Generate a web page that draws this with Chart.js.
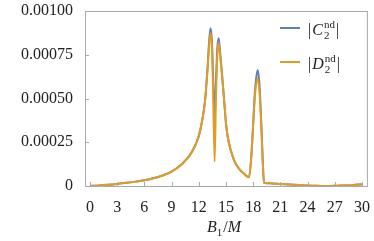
<!DOCTYPE html>
<html>
<head>
<meta charset="utf-8">
<script src="https://cdn.jsdelivr.net/npm/chart.js@4"></script>
<style>
  html, body { margin: 0; padding: 0; background: #fff; }
  #wrap { width: 374px; height: 241px; }
</style>
</head>
<body>
<div id="wrap"><canvas id="chart" width="374" height="241"></canvas></div>
<script>
// B1/M positions
const xValues = [0, 1, 2, 3, 4, 5, 6, 7, 8, 9, 10, 10.5, 11, 11.5, 12, 12.4, 12.7, 12.95, 13.15, 13.3, 13.45, 13.6, 13.75, 13.9, 14.05, 14.2, 14.35, 14.6, 14.8, 15.0, 15.2, 15.5, 16.0, 16.5, 17.0, 17.55, 17.8, 18.0, 18.15, 18.3, 18.5, 18.7, 18.9, 19.05, 19.2, 20, 21, 22, 23, 24, 25, 26, 27, 28, 29, 30];
// |C2nd| (blue), units of 1e-4
const cValues = [0, 0.03, 0.07, 0.12, 0.18, 0.25, 0.33, 0.44, 0.6, 0.82, 1.18, 1.45, 1.75, 2.2, 2.85, 3.8, 4.9, 6.6, 8.3, 9.01, 8.3, 6.0, 3.77, 6.0, 7.9, 8.44, 7.7, 6.2, 4.9, 3.6, 2.8, 2.1, 1.35, 0.95, 0.7, 0.5, 1.7, 3.5, 5.0, 6.0, 6.63, 5.8, 3.6, 1.6, 0.19, 0.15, 0.12, 0.09, 0.06, 0.03, 0.01, 0.0, 0.01, 0.03, 0.05, 0.1];
// |D2nd| (orange), units of 1e-4
const dValues = [0, 0.03, 0.07, 0.12, 0.18, 0.25, 0.33, 0.44, 0.6, 0.82, 1.18, 1.45, 1.75, 2.2, 2.85, 3.8, 4.9, 6.5, 8.0, 8.74, 8.0, 5.0, 1.39, 5.0, 7.5, 8.19, 7.5, 6.1, 4.9, 3.6, 2.8, 2.1, 1.35, 0.95, 0.7, 0.5, 1.7, 3.5, 4.8, 5.7, 6.15, 5.4, 3.4, 1.5, 0.19, 0.15, 0.12, 0.09, 0.06, 0.03, 0.01, 0.0, 0.01, 0.03, 0.05, 0.1];
const xTicks = [0, 3, 6, 9, 12, 15, 18, 21, 24, 27, 30];
const yTicks = [0, 0.00025, 0.0005, 0.00075, 0.001];
const yTickLabels = ['0', '0.00025', '0.00050', '0.00075', '0.00100'];

const BLUE = '#5e81b5';
const ORANGE = '#e19c24';
const SERIF = '"Liberation Serif", "DejaVu Serif", serif';

function toPoints(vals) {
    return xValues.map((x, i) => ({ x: x, y: vals[i] * 1e-4 }));
}

// draw |X_2^nd| with sub/superscript
function drawAbsLabel(ctx, letter, x, baseline) {
    ctx.fillStyle = '#222';
    ctx.textBaseline = 'alphabetic';
    ctx.textAlign = 'left';
    ctx.font = '16px ' + SERIF;
    ctx.fillText('|', x, baseline);
    let cx = x + ctx.measureText('|').width + 1;
    ctx.font = 'italic 16px ' + SERIF;
    ctx.fillText(letter, cx, baseline);
    cx += ctx.measureText(letter).width + 1;
    ctx.font = '11px ' + SERIF;
    ctx.fillText('nd', cx, baseline - 7);
    const w1 = ctx.measureText('nd').width;
    ctx.fillText('2', cx, baseline + 4);
    cx += w1 + 1;
    ctx.font = '16px ' + SERIF;
    ctx.fillText('|', cx, baseline);
}

const framePlugin = {
    id: 'frame',
    afterDraw(chart) {
        const ctx = chart.ctx;
        const a = chart.chartArea;
        const xs = chart.scales.x, ys = chart.scales.y;
        ctx.save();
        ctx.strokeStyle = '#a8a8a8';
        ctx.lineWidth = 1;
        ctx.strokeRect(a.left + 0.5, a.top + 0.5, a.right - a.left - 1, a.bottom - a.top);
        // inward ticks
        ctx.beginPath();
        xTicks.forEach(v => {
            const px = Math.round(xs.getPixelForValue(v)) + 0.5;
            ctx.moveTo(px, a.bottom);
            ctx.lineTo(px, a.bottom - 4);
        });
        yTicks.forEach(v => {
            const py = Math.round(ys.getPixelForValue(v)) + 0.5;
            ctx.moveTo(a.left, py);
            ctx.lineTo(a.left + 4, py);
        });
        ctx.stroke();

        // legend
        ctx.lineWidth = 2;
        ctx.strokeStyle = BLUE;
        ctx.beginPath(); ctx.moveTo(280, 28); ctx.lineTo(300, 28); ctx.stroke();
        ctx.strokeStyle = ORANGE;
        ctx.beginPath(); ctx.moveTo(280, 62); ctx.lineTo(300, 62); ctx.stroke();
        drawAbsLabel(ctx, 'C', 308, 35);
        drawAbsLabel(ctx, 'D', 308, 69);

        // x axis title B_1/M
        ctx.fillStyle = '#222';
        ctx.font = 'italic 16px ' + SERIF;
        let tx = 207;
        ctx.fillText('B', tx, 232);
        tx += ctx.measureText('B').width;
        ctx.font = '11px ' + SERIF;
        ctx.fillText('1', tx, 236);
        tx += ctx.measureText('1').width + 1;
        ctx.font = '16px ' + SERIF;
        ctx.fillText('/', tx, 232);
        tx += ctx.measureText('/').width;
        ctx.font = 'italic 16px ' + SERIF;
        ctx.fillText('M', tx, 232);
        ctx.restore();
    }
};

new Chart(document.getElementById('chart'), {
    type: 'line',
    data: {
        datasets: [
            { label: '|D2nd|', data: toPoints(dValues), borderColor: ORANGE, borderWidth: 2, order: 0 },
            { label: '|C2nd|', data: toPoints(cValues), borderColor: BLUE, borderWidth: 2, order: 1 }
        ]
    },
    options: {
        responsive: false,
        animation: false,
        layout: { padding: { left: 0, right: 5, top: 0, bottom: 0 } },
        elements: {
            point: { radius: 0 },
            line: { cubicInterpolationMode: 'monotone', fill: false }
        },
        plugins: { legend: { display: false }, tooltip: { enabled: false } },
        scales: {
            x: {
                type: 'linear',
                min: -0.55,
                max: 30.66,
                afterBuildTicks(scale) { scale.ticks = xTicks.map(v => ({ value: v })); },
                afterFit(scale) { scale.height = 55; },
                grid: { display: false },
                border: { display: false },
                ticks: {
                    color: '#222',
                    font: { family: SERIF, size: 16 },
                    padding: 4,
                    maxRotation: 0,
                    autoSkip: false,
                    callback: v => String(v)
                }
            },
            y: {
                type: 'linear',
                min: 0,
                max: 0.001,
                afterBuildTicks(scale) { scale.ticks = yTicks.map(v => ({ value: v })); },
                afterFit(scale) { scale.width = 85; scale.paddingTop = 11; },
                grid: { display: false },
                border: { display: false },
                ticks: {
                    color: '#222',
                    font: { family: SERIF, size: 16 },
                    padding: 4,
                    autoSkip: false,
                    callback: (v) => yTickLabels[yTicks.indexOf(v)] ?? ''
                }
            }
        }
    },
    plugins: [framePlugin]
});
</script>
</body>
</html>
